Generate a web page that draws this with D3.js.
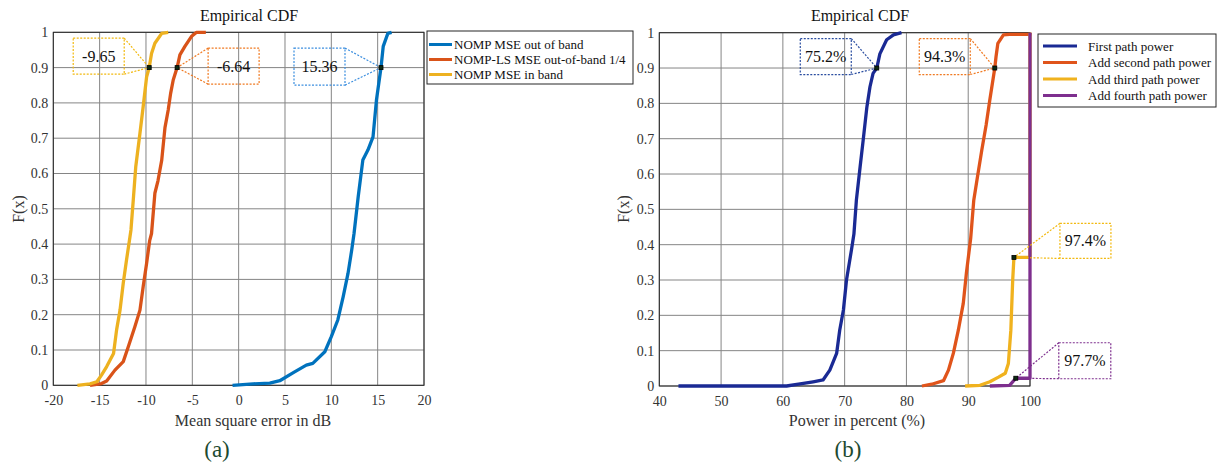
<!DOCTYPE html>
<html>
<head>
<meta charset="utf-8">
<script src="https://cdn.jsdelivr.net/npm/d3@7"></script>
<style>
  body { margin: 0; background: #fff; }
  svg { display: block; font-family: "Liberation Serif", "Times New Roman", serif; }
</style>
</head>
<body>
<svg id="chart" width="1220" height="466"></svg>
<script>
// ---- data: [x, F(x)] ----
var nompOut = [[-0.66,0],[1.56,0.004],[3.36,0.006],[4.44,0.013],[5.9,0.036],[7.3,0.057],[8.0,0.062],
  [9.3,0.095],[10.0,0.138],[10.7,0.185],[11.27,0.25],[11.8,0.317],[12.2,0.383],[12.45,0.43],[12.9,0.534],
  [13.4,0.638],[13.96,0.667],[14.5,0.704],[14.87,0.808],[15.36,0.9],[15.6,0.96],[16.1,0.997],[16.5,1]]
var nompLs = [[-16.04,0],[-14.8,0.005],[-14.24,0.012],[-13.35,0.043],[-12.45,0.067],[-11.9,0.11],
  [-11.2,0.166],[-10.65,0.213],[-10.3,0.28],[-9.93,0.346],[-9.6,0.41],[-9.4,0.43],[-9.04,0.544],
  [-8.7,0.58],[-8.3,0.638],[-7.95,0.73],[-7.6,0.78],[-7.34,0.827],[-7.06,0.865],[-6.64,0.9],
  [-6.34,0.936],[-5.8,0.96],[-5.1,0.988],[-4.54,1],[-3.54,1]]
var nompIn = [[-17.4,0],[-16.04,0.004],[-15.3,0.01],[-14.8,0.029],[-14.24,0.053],[-13.5,0.09],
  [-13.17,0.157],[-12.8,0.213],[-12.45,0.29],[-12.1,0.355],[-11.73,0.42],[-11.62,0.44],[-11.37,0.525],
  [-11.1,0.62],[-10.65,0.714],[-10.3,0.79],[-9.93,0.874],[-9.65,0.9],[-9.4,0.94],[-9.04,0.969],
  [-8.3,0.997],[-7.6,1]]

var path1 = [[43.1,0],[60.6,0],[62.8,0.006],[64.9,0.012],[66.5,0.017],[67.6,0.045],[68.7,0.092],
  [69.2,0.158],[69.8,0.215],[70.3,0.3],[71.1,0.385],[71.5,0.43],[71.9,0.526],[72.5,0.62],[73.0,0.696],
  [73.6,0.79],[74.1,0.847],[74.6,0.885],[75.2,0.9],[75.7,0.94],[76.8,0.98],[77.9,0.994],[79.2,1]]
var path2 = [[82.5,0],[84.1,0.005],[86.0,0.015],[86.8,0.045],[87.6,0.093],[88.4,0.158],[89.2,0.234],
  [89.7,0.319],[90.3,0.404],[90.4,0.418],[90.9,0.526],[91.5,0.592],[92.2,0.668],[92.9,0.739],
  [93.5,0.81],[94.3,0.9],[94.5,0.932],[94.8,0.97],[95.7,0.994],[96.7,0.995],[100,0.995],[100,1]]
var path3 = [[89.5,0],[91.9,0.002],[93.5,0.012],[94.9,0.025],[96.0,0.036],[96.5,0.064],[96.9,0.158],
  [97.2,0.3],[97.4,0.364],[100,0.364],[100,1]]
var path4 = [[93.5,0],[96.7,0.002],[97.7,0.022],[100,0.022],[100,1]]

var namesA = ['NOMP MSE out of band', 'NOMP-LS MSE out-of-band 1/4', 'NOMP MSE in band']
var namesB = ['First path power', 'Add second path power', 'Add third path power', 'Add fourth path power']
var yTicks = [0, 0.1, 0.2, 0.3, 0.4, 0.5, 0.6, 0.7, 0.8, 0.9, 1]
var xTicksA = [-20, -15, -10, -5, 0, 5, 10, 15, 20]
var xTicksB = [40, 50, 60, 70, 80, 90, 100]

// annotated points [x, F, label]
var notesA = [[-9.65, 0.9, '-9.65'], [-6.64, 0.9, '-6.64'], [15.36, 0.9, '15.36']]
var notesB = [[75.2, 0.9, '75.2%'], [94.3, 0.9, '94.3%'], [97.4, 0.364, '97.4%'], [97.7, 0.022, '97.7%']]

var colA = ['#0072BD', '#D95319', '#EDB120']
var colB = ['#1a2a94', '#E0541B', '#F0B21E', '#7E2F8E']
var noteColA = ['#f2b90f', '#f07a22', '#3d8fdf']
var noteColB = ['#2a4da0', '#f07a22', '#f2b90f', '#7E2F8E']
// box offsets relative to point: [dx0, dy0, dx1, dy1], pointer side
var boxA = [[-76, -29.5, -25, 6.5, 'r'], [31, -19.5, 82, 16.5, 'l'], [-87, -19.5, -36, 17.5, 'r']]
var boxB = [[-76.5, -29.5, -25.5, 6.5, 'r'], [-75.5, -29.5, -24.5, 6.5, 'r'], [46, -34, 97, 1, 'l'], [43, -35.5, 95, 0.5, 'l']]

var svg = d3.select('#chart')
var serif = '"Liberation Serif", "Times New Roman", serif'

function panel(o) {
  var g = svg.append('g')
  var x = o.x, y = o.y
  var x0 = x.range()[0], x1 = x.range()[1], y0 = y.range()[0], y1 = y.range()[1]

  // grid
  g.append('g').selectAll('line').data(o.xTicks).enter().append('line')
    .attr('x1', d => x(d)).attr('x2', d => x(d)).attr('y1', y0).attr('y2', y1)
    .attr('stroke', '#858585').attr('stroke-width', 1)
  g.append('g').selectAll('line').data(yTicks).enter().append('line')
    .attr('x1', x0).attr('x2', x1).attr('y1', d => y(d)).attr('y2', d => y(d))
    .attr('stroke', '#858585').attr('stroke-width', 1)

  // axes
  var ax = g.append('g').attr('transform', 'translate(0,' + y0 + ')')
    .call(d3.axisBottom(x).tickValues(o.xTicks).tickSize(0).tickPadding(10).tickFormat(d => String(d)))
  var ay = g.append('g').attr('transform', 'translate(' + x0 + ',0)')
    .call(d3.axisLeft(y).tickValues(yTicks).tickSize(0).tickPadding(5).tickFormat(d => String(+d.toFixed(1))))
  ;[ax, ay].forEach(a => {
    a.attr('font-family', serif).attr('font-size', 14)
    a.select('.domain').remove()
    a.selectAll('text').attr('font-size', 14).attr('fill', '#333').style('font-family', serif)
  })
  g.append('rect').attr('x', x0).attr('y', y1).attr('width', x1 - x0).attr('height', y0 - y1)
    .attr('fill', 'none').attr('stroke', '#262626').attr('stroke-width', 1)

  // curves
  var line = d3.line().x(d => x(d[0])).y(d => y(d[1]))
  o.series.forEach((s, i) => {
    g.append('path').attr('d', line(s)).attr('fill', 'none')
      .attr('stroke', o.colors[i]).attr('stroke-width', 3.3).attr('stroke-linejoin', 'round')
  })

  // annotations
  o.notes.forEach((n, i) => {
    var px = x(n[0]), py = y(n[1]), b = o.boxes[i], c = o.noteColors[i]
    var bx0 = px + b[0], by0 = py + b[1], bx1 = px + b[2], by1 = py + b[3]
    var sx = b[4] == 'r' ? bx1 : bx0
    var a = g.append('g').attr('fill', 'none').attr('stroke', c).attr('stroke-width', 1.2)
      .attr('stroke-dasharray', '2,1.5')
    a.append('rect').attr('x', bx0).attr('y', by0).attr('width', bx1 - bx0).attr('height', by1 - by0)
    a.append('line').attr('x1', sx).attr('y1', by0).attr('x2', px).attr('y2', py)
    a.append('line').attr('x1', sx).attr('y1', by1).attr('x2', px).attr('y2', py)
    g.append('text').attr('x', (bx0 + bx1) / 2).attr('y', (by0 + by1) / 2 + 5.5)
      .attr('text-anchor', 'middle').attr('font-size', 16).attr('fill', '#111').text(n[2])
    g.append('rect').attr('x', px - 2).attr('y', py - 2).attr('width', 4).attr('height', 4)
      .attr('fill', '#0b2a12').attr('stroke', '#000').attr('stroke-width', 0.8)
  })

  // texts
  g.append('text').attr('x', o.titleX).attr('y', 21).attr('text-anchor', 'middle')
    .attr('font-size', 16).attr('fill', '#111').text('Empirical CDF')
  g.append('text').attr('transform', 'translate(' + o.ylabX + ',209) rotate(-90)').attr('text-anchor', 'middle')
    .attr('font-size', 16).attr('fill', '#333').text('F(x)')
  g.append('text').attr('x', o.xlabX).attr('y', 426).attr('text-anchor', 'middle')
    .attr('font-size', 16).attr('fill', '#333').text(o.xlabel)
  g.append('text').attr('x', o.capX).attr('y', 457).attr('text-anchor', 'middle')
    .attr('font-size', 23).attr('fill', '#1d4a30').text(o.caption)

  // legend
  var L = o.legend
  var lg = g.append('g')
  lg.append('rect').attr('x', L.x).attr('y', L.y).attr('width', L.w).attr('height', L.h)
    .attr('fill', '#fff').attr('stroke', '#262626').attr('stroke-width', 1)
  o.names.forEach((nm, i) => {
    var yy = L.y + L.first + i * L.step
    lg.append('line').attr('x1', L.x + L.l0).attr('x2', L.x + L.l1).attr('y1', yy).attr('y2', yy)
      .attr('stroke', o.colors[i]).attr('stroke-width', 3)
    lg.append('text').attr('x', L.x + L.tx).attr('y', yy + 4.5).attr('font-size', 13)
      .attr('fill', '#111').text(nm)
  })
}

panel({
  x: d3.scaleLinear([-20, 20], [53.3, 424]),
  y: d3.scaleLinear([0, 1], [385.3, 32.3]),
  xTicks: xTicksA, series: [nompOut, nompLs, nompIn], colors: colA,
  notes: notesA, boxes: [boxA[2], boxA[1], boxA[0]].reverse(), noteColors: noteColA,
  names: namesA, xlabel: 'Mean square error in dB', caption: '(a)',
  titleX: 249, ylabX: 24, xlabX: 253, capX: 217,
  legend: { x: 427, y: 31, w: 206, h: 53, first: 13.5, step: 15, l0: 2, l1: 25, tx: 27 }
})

panel({
  x: d3.scaleLinear([40, 100], [659.3, 1030]),
  y: d3.scaleLinear([0, 1], [386, 32.7]),
  xTicks: xTicksB, series: [path1, path2, path3, path4], colors: colB,
  notes: notesB, boxes: boxB, noteColors: noteColB,
  names: namesB, xlabel: 'Power in percent (%)', caption: '(b)',
  titleX: 860, ylabX: 629, xlabX: 857, capX: 848,
  legend: { x: 1038, y: 34, w: 178, h: 73, first: 12, step: 16.5, l0: 5, l1: 39, tx: 50 }
})
</script>
</body>
</html>
